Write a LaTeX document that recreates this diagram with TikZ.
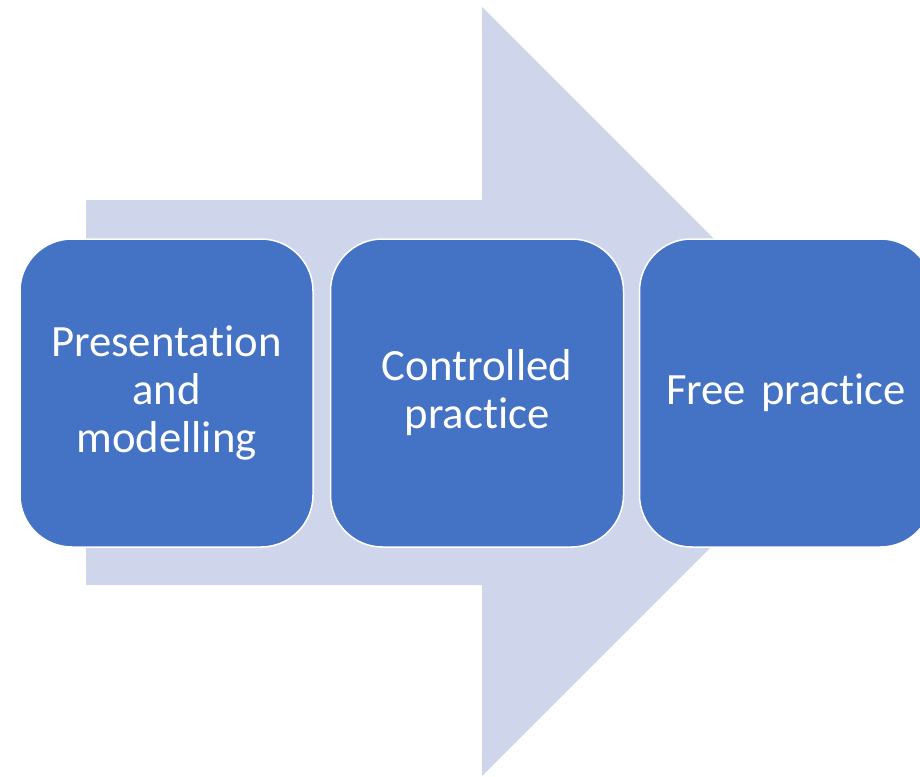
\documentclass[tikz,border=0pt]{standalone}
\usepackage{fontspec}
\setmainfont{Carlito}[Ligatures={NoCommon,NoContextual}, Contextuals=NoAlternate, RawFeature={-liga;-clig;-calt;-dlig}]
\definecolor{boxblue}{HTML}{4472C4}
\definecolor{arrowgrey}{HTML}{CFD5EA}
\begin{document}
\begin{tikzpicture}[x=1pt,y=-1pt,
  stagebox/.style={draw=white, line width=1.5pt, fill=boxblue, rounded corners=52pt,
    minimum width=293pt, minimum height=308pt, inner sep=0pt, text=white,
    align=center, text width=280pt, font=\fontsize{44.7}{48}\selectfont}]
\useasboundingbox (0,0) rectangle (920,776);
\clip (0,0) rectangle (920,776);
\fill[arrowgrey] (86,200) -- (482,200) -- (482,7) -- (866.5,391.5) -- (482,776) -- (482,585) -- (86,585) -- cycle;
\node[stagebox] (s1) at (166.5,393) {Presentation\\and\\modelling};
\node[stagebox] (s2) at (477,393) {Controlled\\practice};
\node[stagebox] (s3) at (786,393) {Free practice};
\end{tikzpicture}
\end{document}
